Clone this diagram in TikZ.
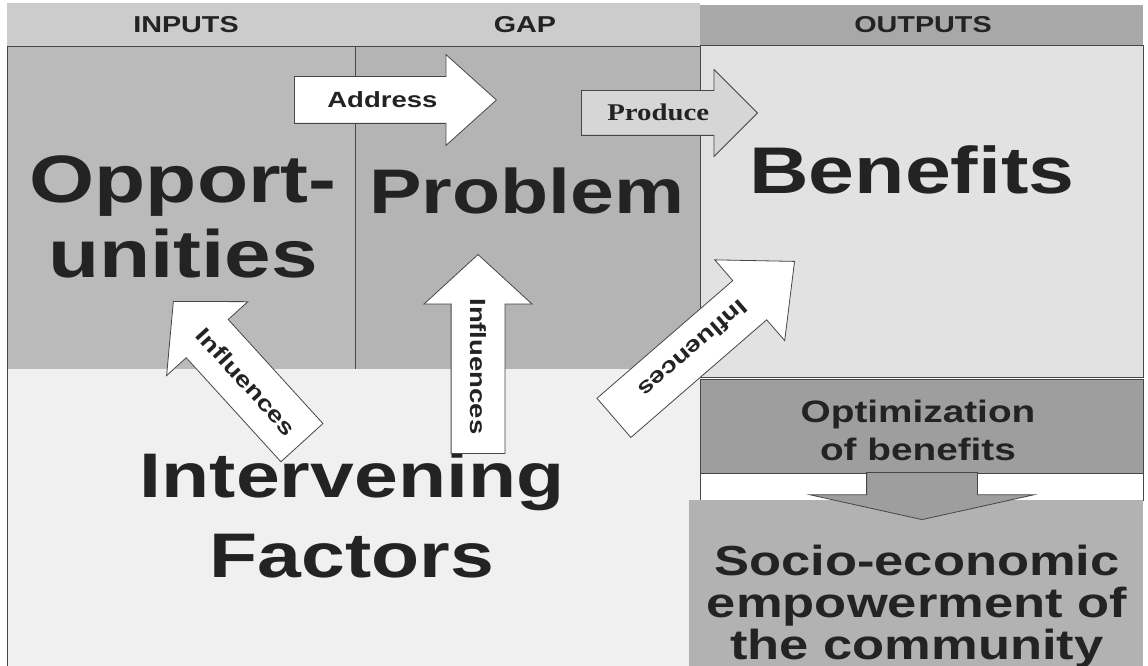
\documentclass[tikz,border=0pt]{standalone}
\usepackage{fontspec}
\usepackage{tikz}
\usetikzlibrary{shapes.arrows}
\newfontfamily\widesans[FakeStretch=1.25]{Liberation Sans}
\newfontfamily\wideserif[FakeStretch=1.2]{Liberation Serif}
\definecolor{inkgray}{RGB}{35,35,35}
\definecolor{edgegray}{RGB}{70,70,70}
\definecolor{headgray}{RGB}{204,204,204}
\definecolor{outgray}{RGB}{168,168,168}
\definecolor{inputgray}{RGB}{186,186,186}
\definecolor{gapgray}{RGB}{180,180,180}
\definecolor{benefitgray}{RGB}{226,226,226}
\definecolor{factorgray}{RGB}{240,240,240}
\definecolor{optgray}{RGB}{158,158,158}
\definecolor{socgray}{RGB}{178,178,178}
\definecolor{producegray}{RGB}{214,214,214}
\tikzstyle{panel} = [draw=edgegray, line width=0.6pt]
\tikzstyle{header} = [text=inkgray, font=\widesans\bfseries\fontsize{23}{26}\selectfont]
\tikzstyle{bigtext} = [text=inkgray, align=center, anchor=base, inner sep=0pt, font=\widesans\bfseries\fontsize{63}{75}\selectfont]
\tikzstyle{midtext} = [text=inkgray, align=center, anchor=base, inner sep=0pt, font=\widesans\bfseries\fontsize{42}{42}\selectfont]
\tikzstyle{smalltext} = [text=inkgray, align=center, anchor=base, inner sep=0pt, font=\widesans\bfseries\fontsize{31}{38}\selectfont]
\tikzstyle{flow} = [single arrow, draw=edgegray, line width=0.8pt, fill=white, inner sep=0pt, anchor=tip, text=inkgray, font=\widesans\bfseries\fontsize{22}{24}\selectfont]

\begin{document}
\begin{tikzpicture}[x=1pt, y=-1pt]
\useasboundingbox (0, 0) rectangle (1148, 666);
\fill [white] (0, 0) rectangle (1148, 666);

% header
\fill [headgray] (7, 3) rectangle (700, 47);
\fill [outgray] (700, 5) rectangle (1143, 45);
\node [header] at (186, 25) (inputs) {INPUTS};
\node [header] at (525, 25) (gap) {GAP};
\node [header] at (923, 25) (outputs) {OUTPUTS};

% boxes
\draw [panel, fill=inputgray] (7, 46) rectangle (355, 369);
\draw [panel, fill=gapgray] (355, 46) rectangle (700, 369);
\draw [panel, fill=benefitgray] (700, 45) rectangle (1143, 377);
\fill [factorgray] (7, 369) rectangle (700, 666);
\draw [panel] (7, 369) -- (7, 666);
\draw [panel, fill=optgray] (700, 379) rectangle (1143, 473);
\draw [panel, fill=white] (700, 473) rectangle (1143, 500);
\fill [socgray] (689, 500) rectangle (1143, 666);

% texts, anchored at the baseline of the last line
\node [bigtext, font=\widesans\bfseries\fontsize{67}{75}\selectfont] at (183, 277) (opp) {Opport-\\unities};
\node [bigtext] at (527, 213) (prob) {Problem};
\node [bigtext, font=\widesans\bfseries\fontsize{66}{75}\selectfont] at (912, 193) (ben) {Benefits};
\node [bigtext, font=\widesans\bfseries\fontsize{63}{80}\selectfont] at (352, 577) (fact) {Intervening\\Factors};
\node [smalltext] at (918, 460) (opt) {Optimization\\of benefits};
\node [midtext] at (917, 659) (soc) {Socio-economic\\empowerment of\\the community};

% arrows
\node [flow, text height=31pt, text depth=15pt, minimum height=202pt, single arrow head extend=22pt, single arrow tip angle=84] at (497, 100) (address) {Address};
\node [flow, fill=producegray, font=\wideserif\bfseries\fontsize{24}{26}\selectfont, text height=30pt, text depth=14pt, minimum height=176pt, single arrow head extend=21pt] at (758, 113) (produce) {Produce};
\node [flow, rotate=-47.7, shape border rotate=180, text height=36pt, text depth=20pt, minimum height=191pt, single arrow head extend=26.5pt, single arrow tip angle=95] at (173, 301) (infopp) {Influences};
\node [flow, rotate=-90, shape border rotate=180, text height=34.5pt, text depth=18.5pt, minimum height=199pt, single arrow head extend=27pt, single arrow tip angle=95] at (478, 254) (infprob) {Influences};
\node [flow, rotate=220.9, shape border rotate=180, text height=33.5pt, text depth=17.5pt, minimum height=239pt, single arrow head extend=27.5pt, single arrow tip angle=84] at (795, 261) (infben) {Influences};
\node [flow, fill=optgray, text height=55pt, text depth=55pt, minimum height=47pt, single arrow head extend=56.5pt, single arrow tip angle=155, rotate=-90] at (922, 520) (optdown) {};

\end{tikzpicture}
\end{document}
